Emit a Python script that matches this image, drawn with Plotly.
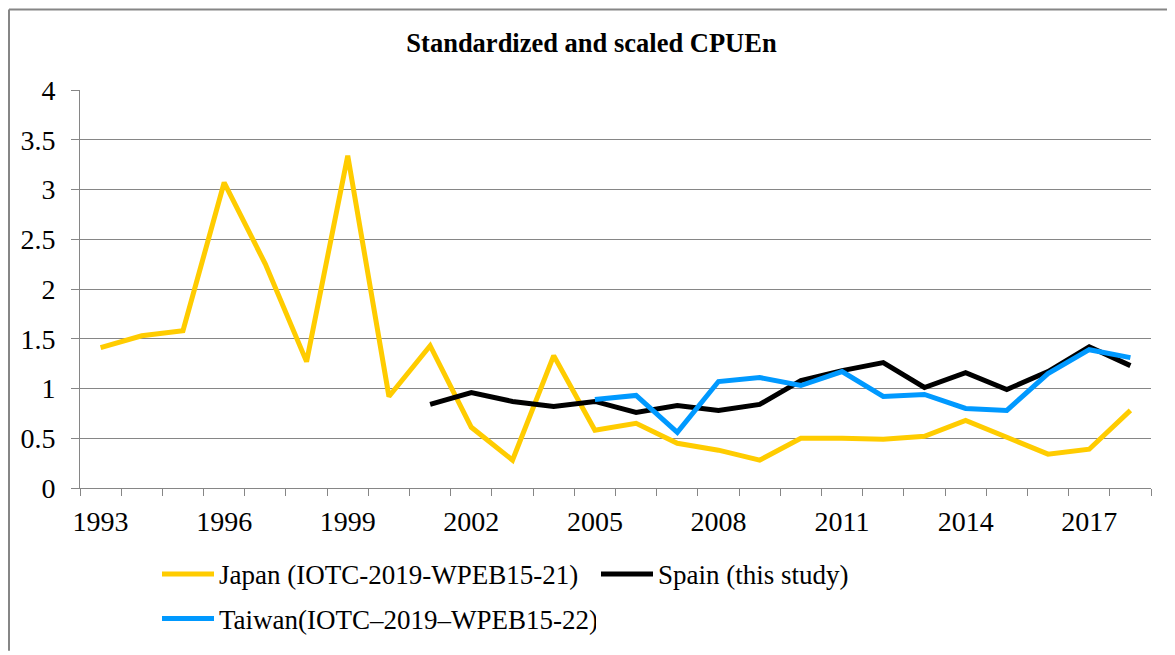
import plotly.graph_objects as go

years = list(range(1993, 2019))
japan = [1.41, 1.53, 1.58, 3.07, 2.25, 1.27, 3.34, 0.92, 1.43, 0.61, 0.28, 1.33, 0.58,
         0.65, 0.45, 0.38, 0.28, 0.50, 0.50, 0.49, 0.52, 0.68, 0.51, 0.34, 0.39, 0.78]
spain_years = list(range(2001, 2019))
spain = [0.84, 0.96, 0.87, 0.82, 0.87, 0.76, 0.83, 0.78, 0.84, 1.08, 1.18, 1.26, 1.01,
         1.16, 0.99, 1.17, 1.42, 1.23]
taiwan_years = list(range(2005, 2019))
taiwan = [0.89, 0.93, 0.56, 1.07, 1.11, 1.03, 1.17, 0.92, 0.94, 0.80, 0.78, 1.15, 1.39, 1.31]
tick_years = list(range(1993, 2019, 3))
tick_labels = [str(y) for y in tick_years]

FONT = "'Liberation Serif', 'Times New Roman', Times, serif"
GRAY = "#868686"

# the page body has an 8px margin; the figure is sized/positioned to compensate
W, H = 1167, 647
ML, MR, MT, MB = 72, 24, 82, 164
PW, PH = W - ML - MR, H - MT - MB


def px(fx):
    return (fx - ML) / PW


def py(fy):
    return (H - MB - fy) / PH


fig = go.Figure()
fig.add_trace(go.Scatter(x=years, y=japan, mode="lines", name="Japan (IOTC-2019-WPEB15-21)",
                         line=dict(color="#FFCC00", width=5), legend="legend"))
fig.add_trace(go.Scatter(x=spain_years, y=spain, mode="lines", name="Spain (this study)",
                         line=dict(color="#000000", width=5), legend="legend"))
fig.add_trace(go.Scatter(x=taiwan_years, y=taiwan, mode="lines", name="Taiwan(IOTC–2019–WPEB15-22)",
                         line=dict(color="#0099FF", width=5), legend="legend2"))

legend_common = dict(orientation="h", xanchor="left", yanchor="middle",
                     entrywidth=372, entrywidthmode="pixels",
                     font=dict(family=FONT, size=27), itemwidth=52,
                     bgcolor="rgba(0,0,0,0)")

fig.update_layout(
    width=W, height=H,
    margin=dict(l=ML, r=MR, t=MT, b=MB),
    paper_bgcolor="white", plot_bgcolor="white",
    font=dict(family=FONT, color="black", size=28),
    title=dict(text="<b>Standardized and scaled CPUEn</b>", x=0.5, xanchor="center",
               xref="container", y=1 - 35 / H, yanchor="middle",
               font=dict(family=FONT, size=26.5)),
    showlegend=True,
    legend=dict(x=px(149), y=py(570), **legend_common),
    legend2=dict(x=px(149), y=py(615), **legend_common),
    xaxis=dict(range=[1992.5, 2018.5], tickmode="array", tickvals=tick_years,
               ticktext=tick_labels, ticks="", showgrid=False, zeroline=False,
               showline=True, linecolor=GRAY, linewidth=1,
               tickfont=dict(family=FONT, size=28), ticklabelstandoff=8,
               minor=dict(tickmode="linear", tick0=1992.5, dtick=1, ticks="outside",
                          ticklen=7, tickcolor=GRAY, showgrid=False)),
    yaxis=dict(range=[0, 4], dtick=0.5, showgrid=True, gridcolor=GRAY, gridwidth=1,
               zeroline=False, showline=True, linecolor=GRAY, linewidth=1,
               ticks="outside", ticklen=8, tickcolor=GRAY, ticklabelstandoff=10,
               tickfont=dict(family=FONT, size=28)),
)

# outer chart border (top and left edges visible in the reference)
fig.add_shape(type="line", xref="paper", yref="paper", x0=px(1), x1=px(W), y0=py(1), y1=py(1),
              line=dict(color=GRAY, width=2))
fig.add_shape(type="line", xref="paper", yref="paper", x0=px(1), x1=px(1), y0=py(1), y1=py(H),
              line=dict(color=GRAY, width=2))

fig.write_html("out.html")
